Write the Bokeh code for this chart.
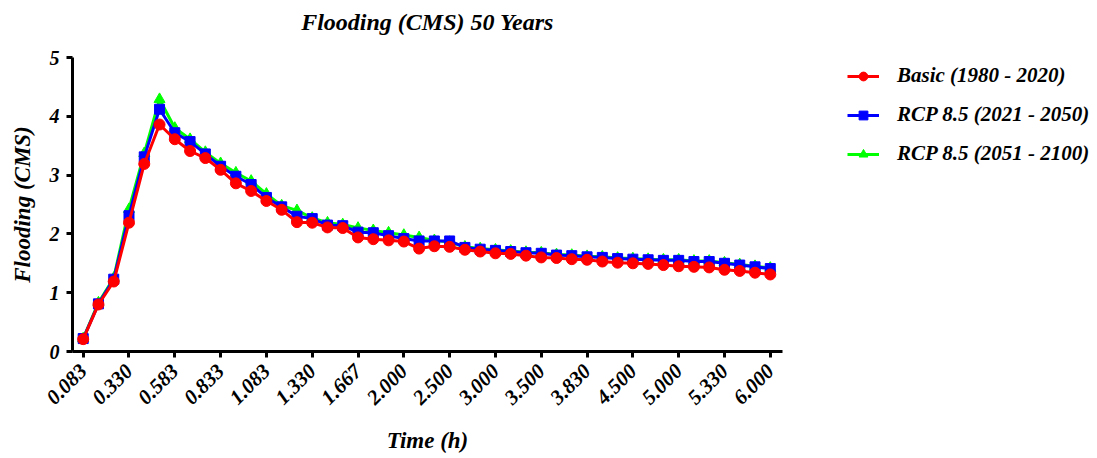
from bokeh.plotting import figure
from bokeh.models import Range1d, FixedTicker, Legend, LegendItem, Title
from bokeh.layouts import row
from bokeh.embed import file_html
from bokeh.resources import INLINE

tick_labels = ["0.083", "0.330", "0.583", "0.833", "1.083", "1.330", "1.667", "2.000",
               "2.500", "3.000", "3.500", "3.830", "4.500", "5.000", "5.330", "6.000"]

basic = [0.21, 0.80, 1.19, 2.19, 3.19, 3.86, 3.61, 3.41, 3.29, 3.09,
         2.86, 2.73, 2.56, 2.41, 2.20, 2.19, 2.11, 2.10, 1.94, 1.91,
         1.89, 1.87, 1.75, 1.79, 1.78, 1.73, 1.70, 1.67, 1.66, 1.63,
         1.60, 1.59, 1.57, 1.56, 1.53, 1.51, 1.50, 1.49, 1.47, 1.45,
         1.44, 1.43, 1.39, 1.37, 1.34, 1.31]
rcp_2050 = [0.22, 0.81, 1.23, 2.31, 3.31, 4.12, 3.72, 3.57, 3.36, 3.15,
            2.98, 2.84, 2.62, 2.46, 2.30, 2.26, 2.15, 2.14, 2.03, 2.02,
            1.97, 1.92, 1.88, 1.88, 1.88, 1.77, 1.74, 1.72, 1.70, 1.68,
            1.67, 1.64, 1.63, 1.61, 1.60, 1.58, 1.57, 1.56, 1.55, 1.55,
            1.53, 1.53, 1.50, 1.47, 1.44, 1.41]
rcp_2100 = [0.22, 0.83, 1.25, 2.42, 3.37, 4.29, 3.80, 3.61, 3.39, 3.20,
            3.04, 2.90, 2.68, 2.48, 2.40, 2.27, 2.19, 2.16, 2.10, 2.06,
            2.02, 1.98, 1.94, 1.89, 1.86, 1.78, 1.75, 1.73, 1.71, 1.69,
            1.68, 1.65, 1.64, 1.62, 1.61, 1.59, 1.58, 1.57, 1.56, 1.56,
            1.54, 1.54, 1.51, 1.48, 1.45, 1.42]

series_names = ["Basic (1980 - 2020)", "RCP 8.5 (2021 - 2050)", "RCP 8.5 (2051 - 2100)"]
colors = ["#FF0000", "#0000FF", "#00FF00"]
markers = ["circle", "square", "triangle"]
sizes = [11, 10, 11]
chart_title = "Flooding (CMS) 50 Years"

n = len(basic)
x = list(range(n))
step = (n - 1) // (len(tick_labels) - 1)
tick_pos = [i * step for i in range(len(tick_labels))]
series = [basic, rcp_2050, rcp_2100]

FONT = "Liberation Serif"
H = 455

p = figure(width=786, height=H, output_backend="svg", toolbar_location=None,
           x_range=Range1d(-0.7, n - 1 + 0.8), y_range=Range1d(0, 5),
           min_border_left=72, min_border_right=4, min_border_top=56, min_border_bottom=100)
p.outline_line_color = None
p.grid.visible = False
p.background_fill_color = "white"
p.border_fill_color = "white"

# spacer panel right above the frame, then the real title above it
spacer = Title(text=" ", text_font_size="13px", standoff=0)
p.add_layout(spacer, "above")
main_title = Title(text=chart_title, align="center", text_font=FONT,
                   text_font_style="bold italic", text_font_size="24px",
                   text_color="black", standoff=12, offset=0)
p.add_layout(main_title, "above")

for ax in (p.xaxis[0], p.yaxis[0]):
    ax.axis_line_width = 3
    ax.axis_line_color = "black"
    ax.major_tick_line_width = 3
    ax.major_tick_line_color = "black"
    ax.major_tick_out = 6
    ax.major_tick_in = 0
    ax.minor_tick_line_color = None
    ax.major_label_text_font = FONT
    ax.major_label_text_font_style = "bold italic"
    ax.axis_label_text_font = FONT
    ax.axis_label_text_font_style = "bold italic"
    ax.axis_label_text_color = "black"
    ax.major_label_text_color = "black"

p.xaxis.ticker = FixedTicker(ticks=tick_pos)
p.xaxis.major_label_overrides = {t: lab for t, lab in zip(tick_pos, tick_labels)}
p.xaxis.major_label_orientation = 0.785398
p.xaxis.major_label_text_font_size = "21px"
p.xaxis.axis_label = "Time (h)"
p.xaxis.axis_label_text_font_size = "23px"
p.xaxis.axis_label_standoff = 14
p.xaxis.major_label_standoff = 10

p.yaxis.ticker = FixedTicker(ticks=[0, 1, 2, 3, 4, 5])
p.yaxis.major_label_text_font_size = "20px"
p.yaxis.axis_label = "Flooding (CMS)"
p.yaxis.axis_label_text_font_size = "23px"
p.yaxis.axis_label_standoff = 12
p.yaxis.major_label_standoff = 7

for i in (2, 1, 0):
    p.line(x, series[i], line_color=colors[i], line_width=3)
    p.scatter(x, series[i], marker=markers[i], size=sizes[i],
              fill_color=colors[i], line_color=colors[i])

# legend area to the right of the plot; its series renderers sit outside its visible ranges
q = figure(width=309, height=H, output_backend="svg", toolbar_location=None,
           x_axis_location=None, y_axis_location=None,
           x_range=Range1d(-20, -10), y_range=Range1d(-20, -10),
           min_border_left=0, min_border_right=0, min_border_top=0, min_border_bottom=0)
q.outline_line_color = None
q.grid.visible = False
q.border_fill_color = "white"
q.background_fill_color = "white"
items = []
for i in range(3):
    ln = q.line(x, series[i], line_color=colors[i], line_width=3)
    mk = q.scatter(x, series[i], marker=markers[i], size=sizes[i] - 1,
                   fill_color=colors[i], line_color=colors[i])
    items.append(LegendItem(label=series_names[i], renderers=[ln, mk]))

legend = Legend(items=items, location=(61, 185))
legend.border_line_color = None
legend.background_fill_alpha = 0
legend.label_text_font = FONT
legend.label_text_font_style = "bold italic"
legend.label_text_font_size = "21px"
legend.label_text_color = "black"
legend.glyph_width = 32
legend.glyph_height = 22
legend.label_height = 22
legend.label_standoff = 18
legend.spacing = 14
legend.padding = 6
legend.margin = 0
q.add_layout(legend, "center")

layout = row(p, q)
open("out.html", "w").write(file_html(layout, INLINE))
